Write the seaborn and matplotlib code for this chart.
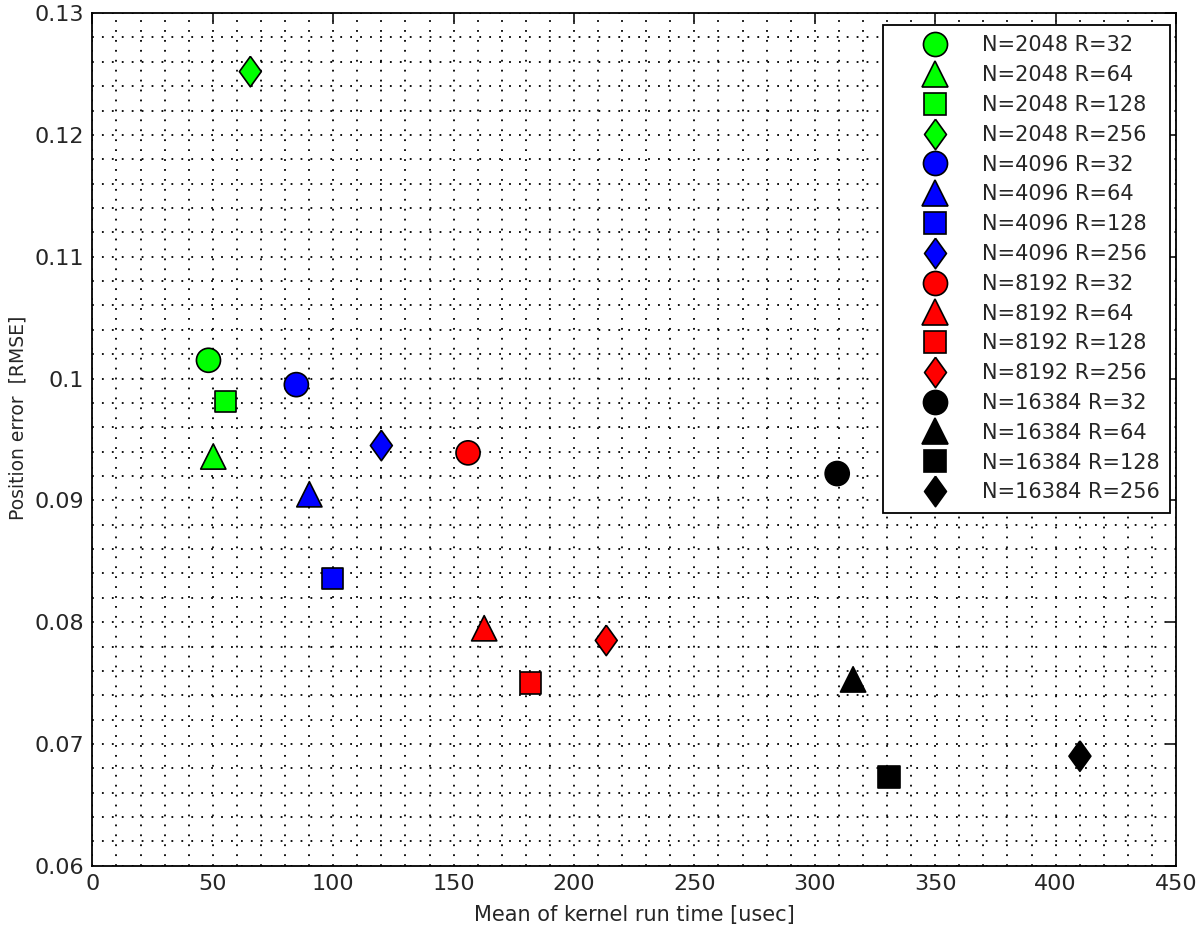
import pandas as pd
import matplotlib
matplotlib.use("Agg")
import matplotlib.pyplot as plt
import seaborn as sns
from matplotlib.ticker import MultipleLocator

# Data
labels = [
    "N=2048 R=32", "N=2048 R=64", "N=2048 R=128", "N=2048 R=256",
    "N=4096 R=32", "N=4096 R=64", "N=4096 R=128", "N=4096 R=256",
    "N=8192 R=32", "N=8192 R=64", "N=8192 R=128", "N=8192 R=256",
    "N=16384 R=32", "N=16384 R=64", "N=16384 R=128", "N=16384 R=256",
]
run_time = [48.2, 50.2, 55.2, 65.6,
            84.7, 90.1, 99.6, 120.0,
            156.0, 162.7, 181.8, 213.4,
            309.3, 315.9, 330.8, 410.1]
rmse = [0.1015, 0.0936, 0.0981, 0.1252,
        0.0995, 0.0905, 0.0836, 0.0945,
        0.0939, 0.0795, 0.0750, 0.0785,
        0.0922, 0.0753, 0.0673, 0.0690]
n_colors = ["#00ff00"] * 4 + ["#0000ff"] * 4 + ["#ff0000"] * 4 + ["#000000"] * 4

# MATLAB-like diamond (a bit wider than matplotlib's 'd')
diamond = [(0, 1), (0.72, 0), (0, -1), (-0.72, 0), (0, 1)]
shapes = ["o", "^", "s", diamond] * 4
shape_sizes = [300, 330, 235, 480] * 4

df = pd.DataFrame({"label": labels, "time": run_time, "rmse": rmse})

sns.set_style("white")
plt.rcParams['font.family'] = ['DejaVu Sans']

fig, ax = plt.subplots(figsize=(12, 9.38), dpi=100)
fig.subplots_adjust(left=0.077, right=0.98, top=0.986, bottom=0.077)

sns.scatterplot(data=df, x="time", y="rmse", hue="label", style="label",
                size="label",
                palette=dict(zip(labels, n_colors)),
                markers=dict(zip(labels, shapes)),
                sizes=dict(zip(labels, shape_sizes)),
                edgecolor="black", linewidth=1.2, ax=ax, zorder=3)

ax.set_xlim(0, 450)
ax.set_ylim(0.06, 0.13)
ax.xaxis.set_major_locator(MultipleLocator(50))
ax.xaxis.set_minor_locator(MultipleLocator(10))
ax.yaxis.set_major_locator(MultipleLocator(0.01))
ax.yaxis.set_minor_locator(MultipleLocator(0.002))
ax.yaxis.set_major_formatter(plt.FuncFormatter(lambda v, p: f"{v:g}"))

ax.grid(which="both", color="black", linestyle=(0, (1, 4.5)), linewidth=1.3)
ax.tick_params(which="major", direction="in", length=8, width=1.3,
               top=True, right=True, labelsize=16, pad=6)
ax.tick_params(which="minor", length=0)
for sp in ax.spines.values():
    sp.set_linewidth(1.3)
    sp.set_color("black")

ax.set_xlabel("Mean of kernel run time [usec]", fontsize=15, labelpad=8)
ax.set_ylabel("Position error  [RMSE]", fontsize=13.5, labelpad=8)
ax.yaxis.set_label_coords(-0.06, 0.525)

handles, lbls = ax.get_legend_handles_labels()
leg = ax.legend(handles, lbls, loc="upper right", fontsize=15,
                markerscale=1.0, frameon=True, fancybox=False,
                edgecolor="black", framealpha=1,
                bbox_to_anchor=(0.9945, 0.986),
                handletextpad=0.22, labelspacing=0.47, borderpad=0.5,
                borderaxespad=0.0, handlelength=4.0)
leg.get_frame().set_linewidth(1.3)

fig.savefig("out.png", dpi=100, facecolor="white")
